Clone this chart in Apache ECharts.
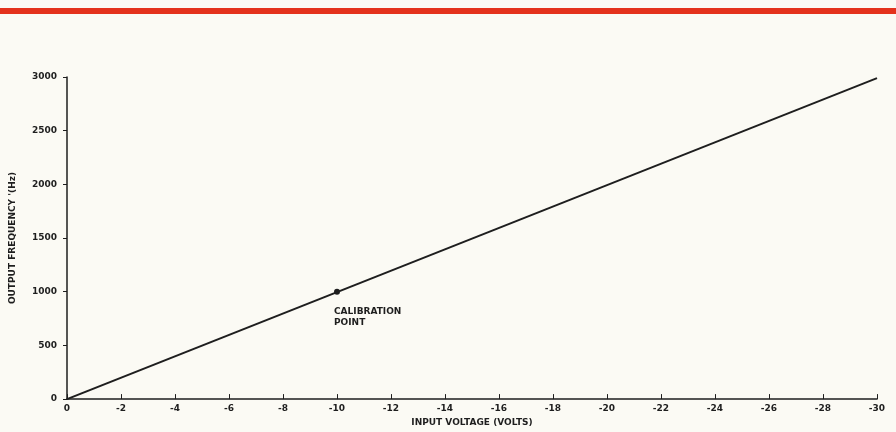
<!DOCTYPE html>
<html>
<head>
<meta charset="utf-8" />
<title>Output frequency vs input voltage</title>
<script src="https://cdn.jsdelivr.net/npm/echarts@6/dist/echarts.min.js"></script>
<style>
  html, body { margin: 0; padding: 0; background: #fbfaf4; }
  #main { width: 896px; height: 432px; }
</style>
</head>
<body>
<div id="main"></div>
<script>
// data
var lineVolts = [0, -30];
var lineHz = [0, 2990];
var calVolts = [-10];
var calHz = [1000];
var calLabel = 'CALIBRATION\nPOINT';

var lineData = [];
for (var i = 0; i < lineVolts.length; i++) {
    lineData.push([lineVolts[i], lineHz[i]]);
}
var calData = [];
for (var j = 0; j < calVolts.length; j++) {
    calData.push([calVolts[j], calHz[j]]);
}

var ink = '#1e1e1e';
var font = 'DejaVu Sans';

var myChart = echarts.init(document.getElementById('main'));
myChart.setOption({
    backgroundColor: '#fbfaf4',
    animation: false,
    graphic: [
        // red band across the top of the page
        { type: 'rect', left: 0, top: 8, shape: { width: 896, height: 6 }, style: { fill: '#e4321c' } }
    ],
    grid: { left: 66, right: 19, top: 77, bottom: 31 },
    xAxis: {
        type: 'value',
        min: -30,
        max: 0,
        interval: 2,
        inverse: true,
        name: 'INPUT VOLTAGE (VOLTS)',
        nameLocation: 'middle',
        nameGap: 16,
        nameTextStyle: { color: ink, fontFamily: font, fontSize: 9, fontWeight: 'bold' },
        axisLine: { lineStyle: { color: ink, width: 1.5 } },
        axisTick: { inside: true, length: 5, lineStyle: { color: ink } },
        axisLabel: { color: ink, fontFamily: font, fontSize: 9, fontWeight: 'bold', margin: 5 },
        splitLine: { show: false }
    },
    yAxis: {
        type: 'value',
        min: 0,
        max: 3000,
        interval: 500,
        name: "OUTPUT FREQUENCY '(Hz)",
        nameLocation: 'middle',
        nameGap: 50,
        nameTextStyle: { color: ink, fontFamily: font, fontSize: 9, fontWeight: 'bold' },
        axisLine: { show: true, lineStyle: { color: ink, width: 1.5 } },
        axisTick: { show: true, length: 4, lineStyle: { color: ink } },
        axisLabel: {
            color: ink, fontFamily: font, fontSize: 9, fontWeight: 'bold', margin: 10,
            formatter: function (v) { return String(v); }
        },
        splitLine: { show: false }
    },
    series: [
        {
            type: 'line',
            data: lineData,
            showSymbol: false,
            lineStyle: { color: ink, width: 2 }
        },
        {
            type: 'scatter',
            data: calData,
            symbolSize: 6,
            itemStyle: { color: ink, opacity: 1 },
            label: {
                show: true,
                formatter: calLabel,
                position: 'bottom',
                align: 'left',
                offset: [-3, 6],
                color: ink,
                fontFamily: font,
                fontSize: 9,
                fontWeight: 'bold',
                lineHeight: 11
            }
        }
    ]
});
</script>
</body>
</html>
